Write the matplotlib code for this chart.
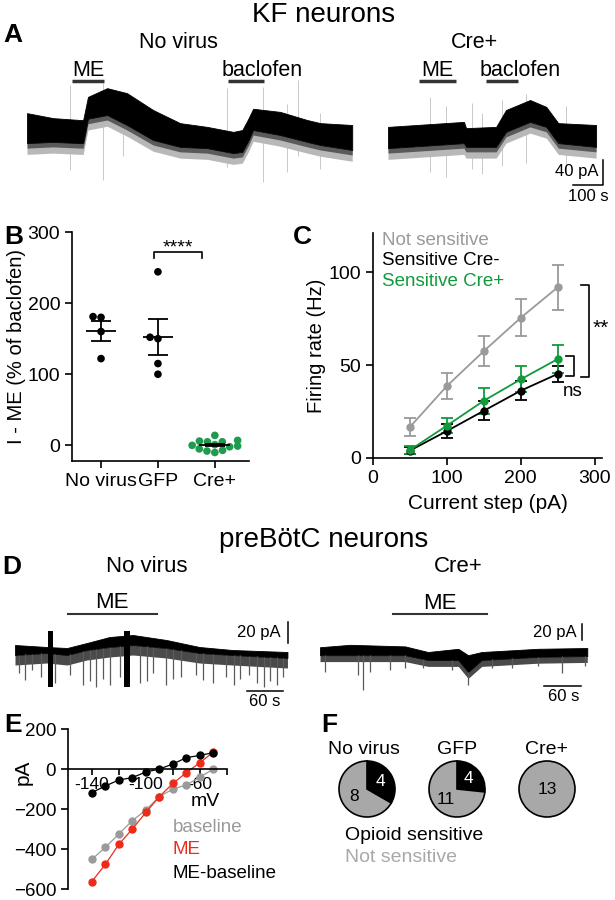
import numpy as np
import pandas as pd
import matplotlib
matplotlib.use('Agg')
import matplotlib.pyplot as plt
import seaborn as sns

plt.rcParams['font.family'] = ['Liberation Sans', 'DejaVu Sans']
plt.rcParams['axes.linewidth'] = 1.2

# ---- A: KF neurons, holding current (s, pA) ----
a_nv_t = [0, 87, 177, 187, 203, 267, 333, 420, 510, 600, 687, 717, 737, 753, 843, 933, 977, 1083]
a_nv_top = [59, 51, 48, 48, 85, 99, 91, 64, 43, 37, 29, 32, 50, 66, 61, 48, 43, 40]
a_nv_bot = [11, 13, 11, 11, 50, 56, 40, 16, 5, 3, -5, -3, 15, 32, 24, 13, 8, 0]
a_nv_spike_t = [143, 253, 320, 667, 787, 867, 903, 977]
a_nv_spike_hi = [104, 107, 80, 99, 101, 74, 112, 60]
a_nv_spike_lo = [-32, -48, -10, -27, -51, -35, -10, -30]
a_nv_drugs = [('ME', 150, 256, 203), ('baclofen', 670, 790, 783)]

a_cre_t = [0, 253, 260, 360, 393, 473, 527, 567, 693]
a_cre_top = [37, 45, 35, 37, 64, 80, 69, 43, 40]
a_cre_bot = [3, 11, 5, 5, 29, 45, 37, 11, 5]
a_cre_spike_t = [140, 193, 280, 313, 380, 460, 593]
a_cre_spike_hi = [85, 70, 75, 60, 80, 90, 70]
a_cre_spike_lo = [-35, -43, -30, -38, -25, -20, -40]
a_cre_drugs = [('ME', 103, 227, 165), ('baclofen', 327, 433, 440)]

# ---- B: I-ME (% of baclofen) ----
b_groups = ['No virus', 'GFP', 'Cre+']
b_novirus = [180, 181, 160, 122]
b_gfp = [244, 152, 150, 115, 100]
b_cre = [14, 7, 6, 5, 5, 1, 0, -1, -2, -5, -7, -8, -10]

# ---- C: firing rate vs current step ----
c_steps = [50, 100, 150, 200, 250]
c_notsens = [16.7, 38.7, 57.5, 75.4, 91.8]
c_notsens_err = [5, 7, 8, 10, 12]
c_cre_minus = [4, 14.5, 25.4, 36.2, 45.2]
c_cre_minus_err = [2, 4, 5, 5, 4.5]
c_cre_plus = [4.3, 17.4, 30.8, 42.3, 53.2]
c_cre_plus_err = [2, 4, 7, 7, 7.5]

# ---- D: preBotC traces (s, pA) ----
d_nv_t = [0, 53, 87, 120, 158, 197, 253, 308, 363, 455]
d_nv_top = [10, 8, 7, 12, 18, 20, 15, 8, 5, 3]
d_nv_bot = [0, 2, 0, 5, 8, 10, 7, 2, 0, -3]
d_nv_artifacts = [(55, 63), (182, 192)]
d_nv_spike_t = [6, 17, 28, 44, 67, 92, 114, 125, 136, 147, 159, 175, 209, 220, 231,
                253, 264, 278, 303, 314, 331, 353, 365, 376, 390, 404, 415, 426, 437, 448]
d_nv_spike_lo = [-18, -25, -15, -22, -28, -20, -30, -26, -32, -24, -30, -22, -28, -26, -18,
                 -30, -24, -22, -20, -25, -28, -22, -30, -24, -20, -28, -32, -26, -30, -22]

d_cre_t = [0, 49, 138, 175, 224, 240, 262, 353, 433]
d_cre_top = [11, 14, 12, 5, 9, 1, 5, 9, 10]
d_cre_bot = [1, 1, 1, -5, -5, -20, -5, -1, 0]
d_cre_spike_t = [8, 62, 70, 81, 113, 138, 167, 214, 240, 279, 311, 353, 392, 429]
d_cre_spike_lo = [-20, -24, -42, -20, -18, -15, -15, -18, -36, -15, -15, -12, -21, -12]

# ---- E: I-V ----
e_mv = [-140, -130, -120, -110, -100, -90, -80, -70, -60, -50]
e_base = [-452, -392, -325, -258, -205, -138, -100, -80, -40, 0]
e_me = [-563, -477, -377, -300, -217, -138, -72, -18, 32, 85]
e_diff = [-118, -85, -55, -43, -15, 0, 25, 57, 68, 82]

# ---- F: pies ----
f_groups = ['No virus', 'GFP', 'Cre+']
f_sensitive = [4, 4, 0]
f_not = [8, 11, 13]

GRAY = '#9a9a9a'
GREEN_B = '#1f9a4f'
GREEN_C = '#119a3c'
RED = '#ee2a1a'

W, H = 615, 900
fig = plt.figure(figsize=(W / 100, H / 100), dpi=100)


def box(x0, y0, x1, y1):
    return [x0 / W, 1 - y1 / H, (x1 - x0) / W, (y1 - y0) / H]


def ftext(x, y, s, **kw):
    kw.setdefault('ha', 'center')
    kw.setdefault('va', 'center')
    fig.text(x / W, 1 - y / H, s, **kw)


def trace_ax(px0, py0, px1, py1, ox, oy, sx, sy):
    ax = fig.add_axes(box(px0, py0, px1, py1))
    ax.set_xlim((px0 - ox) * sx, (px1 - ox) * sx)
    ax.set_ylim((oy - py1) * sy, (oy - py0) * sy)
    ax.axis('off')
    return ax


def letter(x, y, s):
    ftext(x, y, s, fontsize=19, fontweight='bold')


# titles
ftext(324, 15, 'KF neurons', fontsize=20)
ftext(324, 540, 'preBötC neurons', fontsize=20)
letter(13, 35, 'A')
letter(14, 237, 'B')
letter(302, 237, 'C')
letter(12, 567, 'D')
letter(13, 725, 'E')
letter(329, 725, 'F')

# ---- panel A ----
ftext(178, 42, 'No virus', fontsize=15.5)
ftext(474, 42, 'Cre+', fontsize=15.5)
for (px0, px1, ox, t, top, bot, st, shi, slo, drugs) in [
        (20, 365, 27, a_nv_t, a_nv_top, a_nv_bot, a_nv_spike_t, a_nv_spike_hi, a_nv_spike_lo, a_nv_drugs),
        (380, 612, 388, a_cre_t, a_cre_top, a_cre_bot, a_cre_spike_t, a_cre_spike_hi, a_cre_spike_lo, a_cre_drugs)]:
    ax = trace_ax(px0, 60, px1, 205, ox, 150, 3.33, 1.6)
    ax.vlines(st, slo, shi, color='#c0c0c0', lw=0.6, zorder=0)
    bot = np.array(bot)
    ax.fill_between(t, bot - 18, bot, color='#b8b8b8', lw=0, zorder=1)
    ax.fill_between(t, bot - 8, bot, color='#5a5a5a', lw=0, zorder=1)
    ax.fill_between(t, bot, top, color='black', lw=0.6, zorder=2)
    for name, t0, t1, tl in drugs:
        ax.plot([t0, t1], [110, 110], color='#333333', lw=2.5, solid_capstyle='butt')
        ax.text(tl, 127, name, ha='center', va='center', fontsize=15.5)
# scale bar A (in Cre+ axes)
ax.plot([616, 716, 716], [-56, -56, -16], color='black', lw=1.1)
ax.text(700, -35, '40 pA', ha='right', va='center', fontsize=12)
ax.text(668, -74, '100 s', ha='center', va='center', fontsize=12)

# ---- panel B ----
axb = fig.add_axes(box(72, 232, 249, 461))
df = pd.DataFrame({
    'group': ['No virus'] * len(b_novirus) + ['GFP'] * len(b_gfp) + ['Cre+'] * len(b_cre),
    'value': b_novirus + b_gfp + b_cre})
sns.swarmplot(data=df, x='group', y='value', hue='group', order=b_groups,
              palette={'No virus': 'black', 'GFP': 'black', 'Cre+': GREEN_B},
              size=5.5, ax=axb, legend=False, zorder=3)
for i, vals in enumerate([b_novirus, b_gfp, b_cre]):
    m = np.mean(vals)
    s = np.std(vals, ddof=1) / np.sqrt(len(vals))
    axb.hlines(m, i - 0.27, i + 0.27, color='black', lw=1.3, zorder=4)
    axb.vlines(i, m - s, m + s, color='black', lw=1.3, zorder=4)
    axb.hlines([m - s, m + s], i - 0.17, i + 0.17, color='black', lw=1.3, zorder=4)
axb.plot([0.93, 0.93, 1.77, 1.77], [263, 272, 272, 263], color='black', lw=1.2, clip_on=False)
axb.text(1.35, 266, '****', ha='center', va='bottom', fontsize=14)
axb.set_xlim(-0.51, 2.6)
axb.set_ylim(-22, 300)
axb.set_yticks([0, 100, 200, 300])
axb.set_xlabel('')
axb.set_ylabel('I - ME (% of baclofen)', fontsize=14.5, labelpad=1)
axb.spines[['top', 'right']].set_visible(False)
axb.tick_params(labelsize=14, width=1.2, length=5)

# ---- panel C ----
axc = fig.add_axes(box(373, 233, 602, 458))
for vals, err, col in [(c_notsens, c_notsens_err, GRAY),
                       (c_cre_minus, c_cre_minus_err, 'black'),
                       (c_cre_plus, c_cre_plus_err, GREEN_C)]:
    axc.errorbar(c_steps, vals, yerr=err, fmt='-o', color=col, ms=5, lw=1.3,
                 elinewidth=1.3, capsize=4, capthick=1.3, clip_on=False)
axc.text(12, 117, 'Not sensitive', color=GRAY, fontsize=13.5, va='center')
axc.text(12, 106, 'Sensitive Cre-', color='black', fontsize=13.5, va='center')
axc.text(12, 95, 'Sensitive Cre+', color=GREEN_C, fontsize=13.5, va='center')
axc.plot([281, 293, 293, 281], [93, 93, 43.5, 43.5], color='black', lw=1.2, clip_on=False)
axc.plot([261, 272, 272, 261], [55, 55, 44, 44], color='black', lw=1.2, clip_on=False)
axc.text(297, 70, '**', ha='left', va='center', fontsize=15)
axc.text(270, 36, 'ns', ha='center', va='center', fontsize=13.5)
axc.set_xlim(0, 310)
axc.set_ylim(0, 121)
axc.set_xticks([0, 100, 200, 300])
axc.set_yticks([0, 50, 100])
axc.set_xlabel('Current step (pA)', fontsize=15, labelpad=5)
axc.set_ylabel('Firing rate (Hz)', fontsize=14.5, labelpad=2)
axc.spines[['top', 'right']].set_visible(False)
axc.tick_params(labelsize=14, width=1.2, length=5)

# ---- panel D ----
ftext(147, 567, 'No virus', fontsize=16)
ftext(458, 567, 'Cre+', fontsize=16)
axd = trace_ax(10, 595, 300, 712, 15, 655, 1.67, 1.0)
axd.vlines(d_nv_spike_t, np.interp(d_nv_spike_t, d_nv_t, d_nv_bot), d_nv_spike_lo,
           color='#5a5a5a', lw=0.9)
axd.fill_between(d_nv_t, np.array(d_nv_bot) - 10, d_nv_bot, color='#4a4a4a', lw=0)
axd.fill_between(d_nv_t, d_nv_bot, d_nv_top, color='black', lw=0.6)
for t0, t1 in d_nv_artifacts:
    axd.fill_between([t0, t1], [-32, -32], [24, 24], color='black', lw=0)
axd.plot([88, 237], [41, 41], color='#333333', lw=1.5)
axd.text(162, 52, 'ME', ha='center', va='center', fontsize=16)
axd.plot([456, 456], [12, 33], color='black', lw=1.1)
axd.text(443, 22, '20 pA', ha='right', va='center', fontsize=12)
axd.plot([387, 447], [-36, -36], color='black', lw=1.1)
axd.text(417, -46, '60 s', ha='center', va='center', fontsize=12)

axd2 = trace_ax(310, 595, 605, 712, 320, 656, 1.62, 1.25)
axd2.vlines(d_cre_spike_t, np.interp(d_cre_spike_t, d_cre_t, d_cre_bot), d_cre_spike_lo,
            color='#5a5a5a', lw=0.9)
axd2.fill_between(d_cre_t, np.array(d_cre_bot) - 8, d_cre_bot, color='#4a4a4a', lw=0)
axd2.fill_between(d_cre_t, d_cre_bot, d_cre_top, color='black', lw=0.6)
axd2.plot([118, 271], [52.5, 52.5], color='#333333', lw=1.5)
axd2.text(194, 66, 'ME', ha='center', va='center', fontsize=16)
axd2.plot([424, 424], [20, 40], color='black', lw=1.1)
axd2.text(416, 30, '20 pA', ha='right', va='center', fontsize=12)
axd2.plot([363, 423], [-37.5, -37.5], color='black', lw=1.1)
axd2.text(394, -51, '60 s', ha='center', va='center', fontsize=12)

# ---- panel E ----
axe = fig.add_axes(box(68, 729, 227, 889))
axe.plot(e_mv, e_base, '-o', color=GRAY, ms=5, lw=0.9)
axe.plot(e_mv, e_me, '-o', color=RED, ms=5, lw=0.9)
axe.plot(e_mv, e_diff, '-o', color='black', ms=5, lw=0.9)
axe.set_xlim(-157.6, -40)
axe.set_ylim(-600, 200)
axe.spines['bottom'].set_position(('data', 0))
axe.spines[['top', 'right']].set_visible(False)
axe.set_yticks([-600, -400, -200, 0, 200])
axe.set_xticks([-140, -120, -100, -80, -60, -40])
axe.set_xticklabels(['-140', '', '-100', '', '-60', ''])
axe.tick_params(axis='y', labelsize=13.5, width=1.2, length=5)
axe.tick_params(axis='x', labelsize=12.5, width=1.2, length=4, pad=2)
ftext(205, 802, 'mV', fontsize=14)
ftext(23, 772, 'pA', fontsize=15, rotation=90)
ftext(173, 828, 'baseline', color=GRAY, fontsize=13.5, ha='left')
ftext(173, 850, 'ME', color=RED, fontsize=13.5, ha='left')
ftext(173, 873, 'ME-baseline', color='black', fontsize=13.5, ha='left')

# ---- panel F ----
for i, (name, sens, nots) in enumerate(zip(f_groups, f_sensitive, f_not)):
    cx = 367 + 90 * i
    axp = fig.add_axes(box(cx - 35, 789 - 35, cx + 35, 789 + 35))
    counts = [c for c in (sens, nots) if c > 0]
    cols = [c for c, n in zip(['black', '#a8a8a8'], (sens, nots)) if n > 0]
    total = sum(counts)
    wedges, texts, autos = axp.pie(
        counts, colors=cols, startangle=90, counterclock=False,
        autopct=lambda p, tot=total: f'{round(p * tot / 100)}',
        pctdistance=0.55 if len(counts) > 1 else 0,
        wedgeprops=dict(edgecolor='black', linewidth=1.2),
        textprops=dict(fontsize=12.5))
    if sens > 0:
        autos[0].set_color('white')
    ftext(cx - 3 if i == 0 else cx, 749, name, fontsize=14)
ftext(345, 835, 'Opioid sensitive', color='black', fontsize=14, ha='left')
ftext(345, 857, 'Not sensitive', color='#a8a8a8', fontsize=14, ha='left')

fig.savefig('out.png', dpi=100)
